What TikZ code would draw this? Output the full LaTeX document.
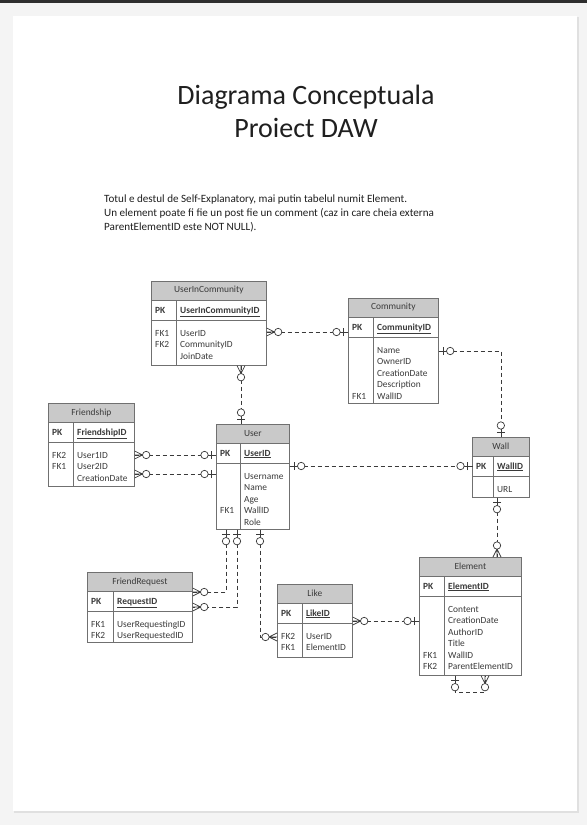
\documentclass[tikz,border=0pt]{standalone}
\usepackage{fontspec}
\setmainfont{Carlito}
\usepackage{tikz}
\usetikzlibrary{calc}
\definecolor{fundal}{HTML}{F4F4F4}
\definecolor{banda}{HTML}{2E2E2E}
\definecolor{antetgri}{HTML}{C9C9C9}
\definecolor{textgri}{HTML}{3A3A3A}
\definecolor{chenargri}{HTML}{707070}
% tabel: #1 nume, #2 titlu, #3 colt stanga sus, #4 latime, #5 inaltime,
%        #6 coloana cheie, #7 PK, #8 chei, #9 campuri
\newcommand{\tabel}[9]{
\node[tabel, minimum width = #4, minimum height = #5] (#1) at (#3) {};
\filldraw[antet] (#1.north west) rectangle ($(#1.north east)+(0,19)$);
\node[titlu] (#1-titlu) at ($(#1.north)+(0,9.5)$) {#2};
\draw[chenar] ($(#1.north west)+(0,39)$) -- ($(#1.north east)+(0,39)$);
\draw[chenar] ($(#1.north west)+(#6,19)$) -- ($(#1.south west)+(#6,0)$);
\node[cheie] (#1-pk) at ($(#1.north west)+(4,29)$) {\textbf{PK}};
\node[cheie] (#1-id) at ($(#1.north west)+(#6+4,29)$) {\underline{\textbf{#7}}};
\node[lista] (#1-fk) at ($(#1.north west)+(4,47)$) {\strut #8};
\node[lista] (#1-campuri) at ($(#1.north west)+(#6+4,47)$) {\strut #9};
}

\begin{document}
\begin{tikzpicture}[x = 1pt, y = -1pt,
    chenar/.style = {draw = chenargri, line width = 0.7pt},
    tabel/.style = {chenar, anchor = north west, inner sep = 0pt, fill = white},
    antet/.style = {chenar, fill = antetgri},
    titlu/.style = {inner sep = 0pt, text = textgri, font = \fontsize{9.4}{11.5}\selectfont},
    cheie/.style = {anchor = west, inner sep = 0pt, text height = 6pt, text depth = 0pt, text = textgri, font = \fontsize{9.4}{11.5}\selectfont},
    lista/.style = {anchor = north west, inner sep = 0pt, align = left, text = textgri, font = \fontsize{9.4}{11.5}\selectfont},
    rel/.style = {draw = textgri, line width = 0.7pt, dash pattern = on 4pt off 3pt},
    marker/.style = {draw = textgri, line width = 0.7pt, solid},
    zerounu/.pic = {
        \draw[marker] (0,0) -- (8,0) (5,-4) -- (5,4);
        \draw[marker, fill = white] (11.5,0) circle (3.7pt);
    },
    zeromulti/.pic = {
        \draw[marker] (0,-4) -- (8,0) -- (0,4) (0,0) -- (8,0);
        \draw[marker, fill = white] (11.5,0) circle (3.7pt);
    }]
    % Pagina
    \useasboundingbox (0,0) rectangle (587,825);
    \fill[fundal] (0,0) rectangle (587,825);
    \fill[banda] (0,0) rectangle (587,3);
    \fill[black!12] (14,17) rectangle (578.5,812.5);
    \fill[white] (13,16) rectangle (577,811);
    % Titlu si nota
    \node[align = center, text = black!88, font = \fontsize{28}{33}\selectfont] (titlu) at (306,111) {Diagrama Conceptuala\\Proiect DAW};
    \node[anchor = north west, inner sep = 0pt, align = left, text = black!88, font = \fontsize{11.1}{14}\selectfont] (nota) at (104,195)
        {Totul e destul de Self-Explanatory, mai putin tabelul numit Element.\\
         Un element poate fi fie un post fie un comment (caz in care cheia externa\\
         ParentElementID este NOT NULL).};
    % Tabele
    \tabel{uic}{UserInCommunity}{151,281}{115}{84}{25}{UserInCommunityID}{FK1\\FK2}{UserID\\CommunityID\\JoinDate}
    \tabel{com}{Community}{348,298}{90}{105}{25}{CommunityID}{~\\~\\~\\~\\FK1}{Name\\OwnerID\\CreationDate\\Description\\WallID}
    \tabel{prieten}{Friendship}{48,403}{86}{83}{25}{FriendshipID}{FK2\\FK1}{User1ID\\User2ID\\CreationDate}
    \tabel{user}{User}{216,424}{73}{105}{24}{UserID}{~\\~\\~\\FK1}{Username\\Name\\Age\\WallID\\Role}
    \tabel{wall}{Wall}{472,437}{57}{60}{21}{WallID}{~}{URL}
    \tabel{cerere}{FriendRequest}{87,572}{105}{70}{26}{RequestID}{FK1\\FK2}{UserRequestingID\\UserRequestedID}
    \tabel{like}{Like}{277,584}{75}{73}{25}{LikeID}{FK2\\FK1}{UserID\\ElementID}
    \tabel{elem}{Element}{419,557}{102}{118}{25}{ElementID}{~\\~\\~\\~\\FK1\\FK2}{Content\\CreationDate\\AuthorID\\Title\\WallID\\ParentElementID}
    % Legaturi
    \coordinate (a1) at ([yshift=-51pt]uic.north east);
    \draw[rel] (a1) -- (a1 -| com.west);
    \pic at (a1) {zeromulti};
    \pic[rotate = 180] at (a1 -| com.west) {zerounu};
    \coordinate (a2) at ([xshift=90pt]uic.south west);
    \draw[rel] (a2) -- (a2 |- user.north);
    \pic[rotate = -90] at (a2) {zeromulti};
    \pic[rotate = 90] at (a2 |- user.north) {zerounu};
    \coordinate (a3) at ([yshift=-53pt]com.north east);
    \draw[rel] (a3) -| (wall.north);
    \pic at (a3) {zerounu};
    \pic[rotate = 90] at (wall.north) {zerounu};
    \coordinate (a4) at ([yshift=-52pt]prieten.north east);
    \draw[rel] (a4) -- (a4 -| user.west);
    \pic at (a4) {zeromulti};
    \pic[rotate = 180] at (a4 -| user.west) {zerounu};
    \coordinate (a5) at ([yshift=-71pt]prieten.north east);
    \draw[rel] (a5) -- (a5 -| user.west);
    \pic at (a5) {zeromulti};
    \pic[rotate = 180] at (a5 -| user.west) {zerounu};
    \coordinate (a6) at ([yshift=-42pt]user.north east);
    \draw[rel] (a6) -- (a6 -| wall.west);
    \pic at (a6) {zerounu};
    \pic[rotate = 180] at (a6 -| wall.west) {zerounu};
    \coordinate (a7) at ([xshift=25pt]wall.south west);
    \draw[rel] (a7) -- (a7 |- elem.north);
    \pic[rotate = -90] at (a7) {zerounu};
    \pic[rotate = 90] at (a7 |- elem.north) {zeromulti};
    \coordinate (a8) at ([xshift=10pt]user.south west);
    \coordinate (b8) at ([yshift=-20pt]cerere.north east);
    \draw[rel] (a8) |- (b8);
    \pic[rotate = -90] at (a8) {zerounu};
    \pic at (b8) {zeromulti};
    \coordinate (a9) at ([xshift=21pt]user.south west);
    \coordinate (b9) at ([yshift=-35pt]cerere.north east);
    \draw[rel] (a9) |- (b9);
    \pic[rotate = -90] at (a9) {zerounu};
    \pic at (b9) {zeromulti};
    \coordinate (a10) at ([xshift=44pt]user.south west);
    \coordinate (b10) at ([yshift=-53pt]like.north west);
    \draw[rel] (a10) |- (b10);
    \pic[rotate = -90] at (a10) {zerounu};
    \pic[rotate = 180] at (b10) {zeromulti};
    \coordinate (a11) at ([yshift=-37pt]like.north east);
    \draw[rel] (a11) -- (a11 -| elem.west);
    \pic at (a11) {zeromulti};
    \pic[rotate = 180] at (a11 -| elem.west) {zerounu};
    \coordinate (a12) at ([xshift=36pt]elem.south west);
    \coordinate (b12) at ([xshift=66pt]elem.south west);
    \draw[rel] (a12) -- ++(0,17) -| (b12);
    \pic[rotate = -90] at (a12) {zerounu};
    \pic[rotate = -90] at (b12) {zeromulti};
\end{tikzpicture}
\end{document}
